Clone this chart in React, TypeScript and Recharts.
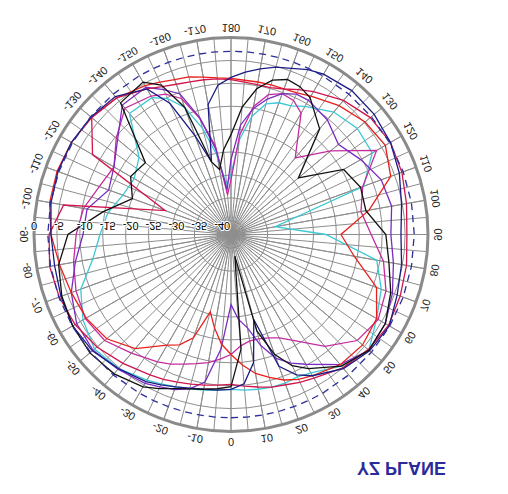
import {
  RadarChart,
  Radar,
  PolarGrid,
  PolarAngleAxis,
  PolarRadiusAxis,
} from "recharts";

// angle (deg, 0 = top before flip, clockwise), finer steps near the nulls
const angles = [
  0, 5, 10, 15, 20, 25, 30,
  40, 50, 60, 70, 80, 90, 100, 110, 120, 130, 140,
  150, 155, 160, 165, 170, 175, 180, 185, 190, 195, 200, 205, 210,
  220, 230, 240, 250, 260, 270, 280, 290, 300, 310, 320,
  330, 335, 340, 345, 350, 355,
];

// gain in dB
const navy = [
  -9.2, -10.3, -14.6, -23.8, -12.4, -9.2, -7.4,
  -4.8, -3.5, -3.1, -4.4, -5.2, -5.9, -5.2, -3.9, -2.8, -2.2, -2.0,
  -2.6, -3.3, -4.4, -5.2, -6.3, -7.4, -8.7, -10.3, -14.2, -26.6, -20.1, -11.4, -6.3,
  -3.7, -3.1, -2.8, -2.8, -3.1, -3.7, -3.9, -3.5, -3.1, -3.5, -4.8,
  -5.9, -6.8, -7.6, -8.3, -8.7, -8.9,
];
const black = [
  -9.8, -17.9, -38.2, -21.2, -15.1, -11.4, -9.2,
  -5.5, -3.7, -4.1, -5.9, -8.0, -9.2, -13.1, -12.9, -14.6, -23.8, -12.9,
  -8.5, -7.4, -7.0, -8.1, -10.7, -15.1, -21.2, -24.4, -28.6, -26.6, -13.5, -7.0, -4.6,
  -5.5, -18.6, -17.7, -20.1, -14.6, -7.4, -4.8, -3.7, -3.1, -2.8, -3.3,
  -4.6, -5.9, -7.2, -8.1, -8.7, -9.2,
];
const purple = [
  -27.7, -24.4, -22.3, -17.9, -14.2, -12.0, -10.3,
  -5.9, -3.7, -4.1, -5.5, -7.0, -8.1, -7.4, -8.1, -10.3, -12.4, -10.3,
  -9.2, -9.2, -10.3, -12.4, -15.1, -19.0, -26.6, -33.2, -24.2, -16.6, -10.3, -8.1, -5.9,
  -6.1, -10.7, -13.5, -14.6, -11.1, -10.7, -8.5, -5.9, -4.1, -3.7, -4.6,
  -5.5, -6.3, -7.0, -8.1, -10.3, -17.9,
];
const magenta = [
  -16.8, -18.6, -19.4, -19.4, -19.0, -18.1, -16.4,
  -11.1, -7.0, -5.9, -7.0, -9.2, -12.4, -14.2, -12.4, -6.3, -14.6, -21.2,
  -12.4, -10.7, -10.3, -11.4, -14.6, -21.2, -31.0, -34.3, -23.4, -16.8, -11.4, -9.2, -8.1,
  -7.0, -10.3, -13.5, -12.4, -10.3, -9.2, -8.1, -7.0, -6.3, -7.0, -9.2,
  -10.9, -11.8, -12.9, -13.8, -14.6, -15.7,
];
const red = [
  -16.8, -14.4, -12.2, -10.7, -9.2, -8.1, -7.4,
  -5.9, -5.5, -6.3, -9.2, -15.7, -19.0, -12.4, -5.9, -4.1, -4.8, -6.3,
  -8.1, -8.9, -9.2, -9.2, -9.2, -9.2, -8.9, -8.7, -8.1, -7.4, -7.0, -6.3, -5.5,
  -4.1, -3.3, -2.8, -2.6, -2.8, -3.7, -5.0, -5.9, -6.5, -7.6, -10.5,
  -15.1, -16.4, -19.0, -25.5, -22.3, -19.0,
];
const crimson = [
  -10.3, -9.8, -9.2, -8.5, -8.1, -7.4, -6.8,
  -5.0, -3.9, -3.3, -3.7, -4.1, -4.6, -4.1, -3.3, -2.8, -3.3, -4.8,
  -7.0, -8.1, -9.2, -9.8, -9.8, -9.6, -9.2, -8.9, -8.7, -8.5, -8.1, -7.4, -6.3,
  -4.1, -3.3, -8.1, -27.7, -5.9, -3.3, -2.8, -3.1, -3.7, -4.8, -6.3,
  -7.6, -8.1, -8.7, -9.2, -9.6, -10.0,
];
const cyan = [
  -9.2, -8.9, -8.7, -8.5, -8.5, -8.7, -8.1,
  -5.5, -3.7, -6.3, -8.1, -10.7, -22.3, -33.2, -12.2, -7.4, -7.0, -8.1,
  -10.7, -12.0, -12.4, -13.5, -16.8, -22.3, -29.9, -32.1, -25.5, -19.0, -13.5, -10.3, -8.5,
  -8.5, -16.8, -18.6, -17.9, -15.7, -14.4, -12.4, -8.1, -5.7, -4.1, -4.8,
  -6.3, -7.0, -7.6, -8.1, -8.5, -8.9,
];
const refLevel = -3;

const angleTicks = [
  0, 10, 20, 30, 40, 50, 60, 70, 80, 90, 100, 110, 120, 130, 140, 150, 160, 170,
  180, 190, 200, 210, 220, 230, 240, 250, 260, 270, 280, 290, 300, 310, 320, 330, 340, 350,
];
const radiusTicks = [-40, -35, -30, -25, -20, -15, -10, -5, 0];

const CX = 231;
const CY = 259.5;
const R = 197;
const FONT = '"Liberation Sans", Arial, sans-serif';
const innerSpokes = Array.from({ length: 72 }, (_, i) => i * 5);

const data = angles.map((angle, i) => ({
  angle,
  navy: navy[i],
  black: black[i],
  purple: purple[i],
  magenta: magenta[i],
  red: red[i],
  crimson: crimson[i],
  cyan: cyan[i],
  ref: refLevel,
}));

function AngleTick(props: any) {
  const value = props.payload.value;
  const label = value > 180 ? value - 360 : value;
  const rad = ((90 - value) * Math.PI) / 180;
  const x = CX + (R + 10) * Math.cos(rad);
  const y = CY - (R + 10) * Math.sin(rad);
  let rot = label;
  if (label > 90) rot = label - 180;
  if (label < -90) rot = label + 180;
  return (
    <text
      x={x}
      y={y}
      transform={`rotate(${rot} ${x} ${y})`}
      textAnchor="middle"
      dominantBaseline="central"
      fontSize={11}
      fontFamily={FONT}
      fill="#222"
    >
      {label}
    </text>
  );
}

// radius labels sit on the rings; a white halo keeps the minus signs readable
function RadiusTick(props: any) {
  return (
    <text
      x={props.x - 3}
      y={CY + 12.5}
      fontSize={11}
      fontFamily={FONT}
      fill="#000"
      stroke="#fff"
      strokeWidth={2}
      paintOrder="stroke"
    >
      {props.payload.value}
    </text>
  );
}

export default function App() {
  return (
    <div
      style={{
        position: "absolute",
        left: 0,
        top: 0,
        width: 508,
        height: 494,
        background: "#fff",
        transform: "scaleY(-1)",
        fontFamily: FONT,
      }}
    >
      <RadarChart
        width={508}
        height={494}
        data={data}
        cx={CX}
        cy={CY}
        outerRadius={R}
        margin={{ top: 0, right: 0, bottom: 0, left: 0 }}
      >
        <PolarGrid gridType="circle" stroke="#8e8e8e" />
        <PolarGrid
          gridType="circle"
          polarAngles={innerSpokes}
          polarRadius={[]}
          outerRadius={37}
          stroke="#8e8e8e"
        />
        <PolarGrid
          gridType="circle"
          radialLines={false}
          polarRadius={[R]}
          stroke="#8a8a8a"
          strokeWidth={3}
        />
        <PolarAngleAxis
          dataKey="angle"
          type="number"
          domain={[0, 360]}
          ticks={angleTicks}
          tick={(p: any) => <AngleTick {...p} />}
          axisLine={false}
          tickLine={false}
        />
        <Radar dataKey="cyan" stroke="#3cc8d4" fill="none" strokeWidth={1.3} dot={false} isAnimationActive={false} />
        <Radar dataKey="magenta" stroke="#c42c9e" fill="none" strokeWidth={1.3} dot={false} isAnimationActive={false} />
        <Radar dataKey="purple" stroke="#7a2cc0" fill="none" strokeWidth={1.3} dot={false} isAnimationActive={false} />
        <Radar dataKey="red" stroke="#e8201c" fill="none" strokeWidth={1.3} dot={false} isAnimationActive={false} />
        <Radar dataKey="crimson" stroke="#d0164c" fill="none" strokeWidth={1.3} dot={false} isAnimationActive={false} />
        <Radar dataKey="navy" stroke="#1c1c84" fill="none" strokeWidth={1.3} dot={false} isAnimationActive={false} />
        <Radar dataKey="black" stroke="#111111" fill="none" strokeWidth={1.3} dot={false} isAnimationActive={false} />
        <Radar
          dataKey="ref"
          stroke="#2e2e9c"
          fill="none"
          strokeWidth={1.3}
          strokeDasharray="7 5"
          dot={false}
          isAnimationActive={false}
        />
        <PolarRadiusAxis
          type="number"
          angle={180}
          domain={[-43, 0]}
          ticks={radiusTicks}
          axisLine={false}
          tick={(p: any) => <RadiusTick {...p} />}
        />
      </RadarChart>
      <div
        style={{
          position: "absolute",
          left: 357,
          top: 17,
          fontSize: 18,
          lineHeight: "19px",
          fontWeight: "bold",
          color: "#2b2b9c",
          whiteSpace: "nowrap",
        }}
      >
        YZ PLANE
      </div>
    </div>
  );
}
